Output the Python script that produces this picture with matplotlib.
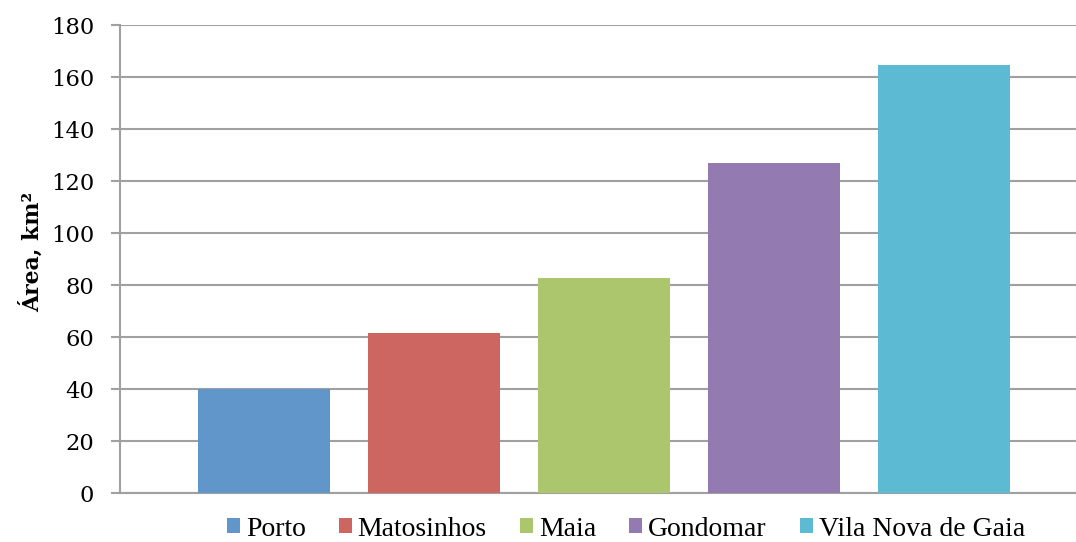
import matplotlib
matplotlib.use("Agg")
import matplotlib.pyplot as plt
from matplotlib.patches import Patch

# Data
municipios = ["Porto", "Matosinhos", "Maia", "Gondomar", "Vila Nova de Gaia"]
areas = [40.0, 61.5, 82.7, 126.9, 164.6]
colors = ["#6196CA", "#CD6660", "#ACC66E", "#937AB1", "#5CBAD2"]
y_ticks = [0, 20, 40, 60, 80, 100, 120, 140, 160, 180]

GRID_COLOR = "#A0A0A0"
TICK_FONT = "DejaVu Serif"
LEGEND_FONT = "Liberation Serif"

fig = plt.figure(figsize=(10.76, 5.42), dpi=100)
ax = fig.add_axes([120 / 1076, 1 - 493 / 542, 1 - 120 / 1076, (493 - 25) / 542])

positions = list(range(len(municipios)))
ax.bar(positions, areas, width=132 / 170, color=colors, zorder=3)

ax.set_xlim((120 - 264) / 170, (1076 - 264) / 170)
ax.set_ylim(0, 180)
ax.set_yticks(y_ticks)
ax.set_xticks([])

ax.yaxis.grid(True, color=GRID_COLOR, linewidth=1.5, zorder=0)
ax.set_axisbelow(True)
for side in ["top", "right"]:
    ax.spines[side].set_visible(False)
for side in ["left", "bottom"]:
    ax.spines[side].set_color(GRID_COLOR)
    ax.spines[side].set_linewidth(1.5)

ax.tick_params(axis="y", length=6.5, width=1.5, color=GRID_COLOR, pad=12,
               labelsize=16.3)
for lbl in ax.get_yticklabels():
    lbl.set_fontfamily(TICK_FONT)

ax.set_ylabel("Área, km²", fontfamily=TICK_FONT, fontweight="bold",
              fontsize=15.8)
ax.yaxis.set_label_coords(-76 / 956, 0.515)

handles = [Patch(facecolor=c, edgecolor="none") for c in colors]
fig.legend(handles, municipios, loc="center", bbox_to_anchor=(626 / 1076, 1 - 529 / 542),
           ncol=5, frameon=False, prop={"family": LEGEND_FONT, "size": 20},
           handlelength=0.47, handleheight=0.47, handletextpad=0.2,
           columnspacing=1.2, borderaxespad=0, borderpad=0)

fig.savefig("out.png", dpi=100, facecolor="white")
